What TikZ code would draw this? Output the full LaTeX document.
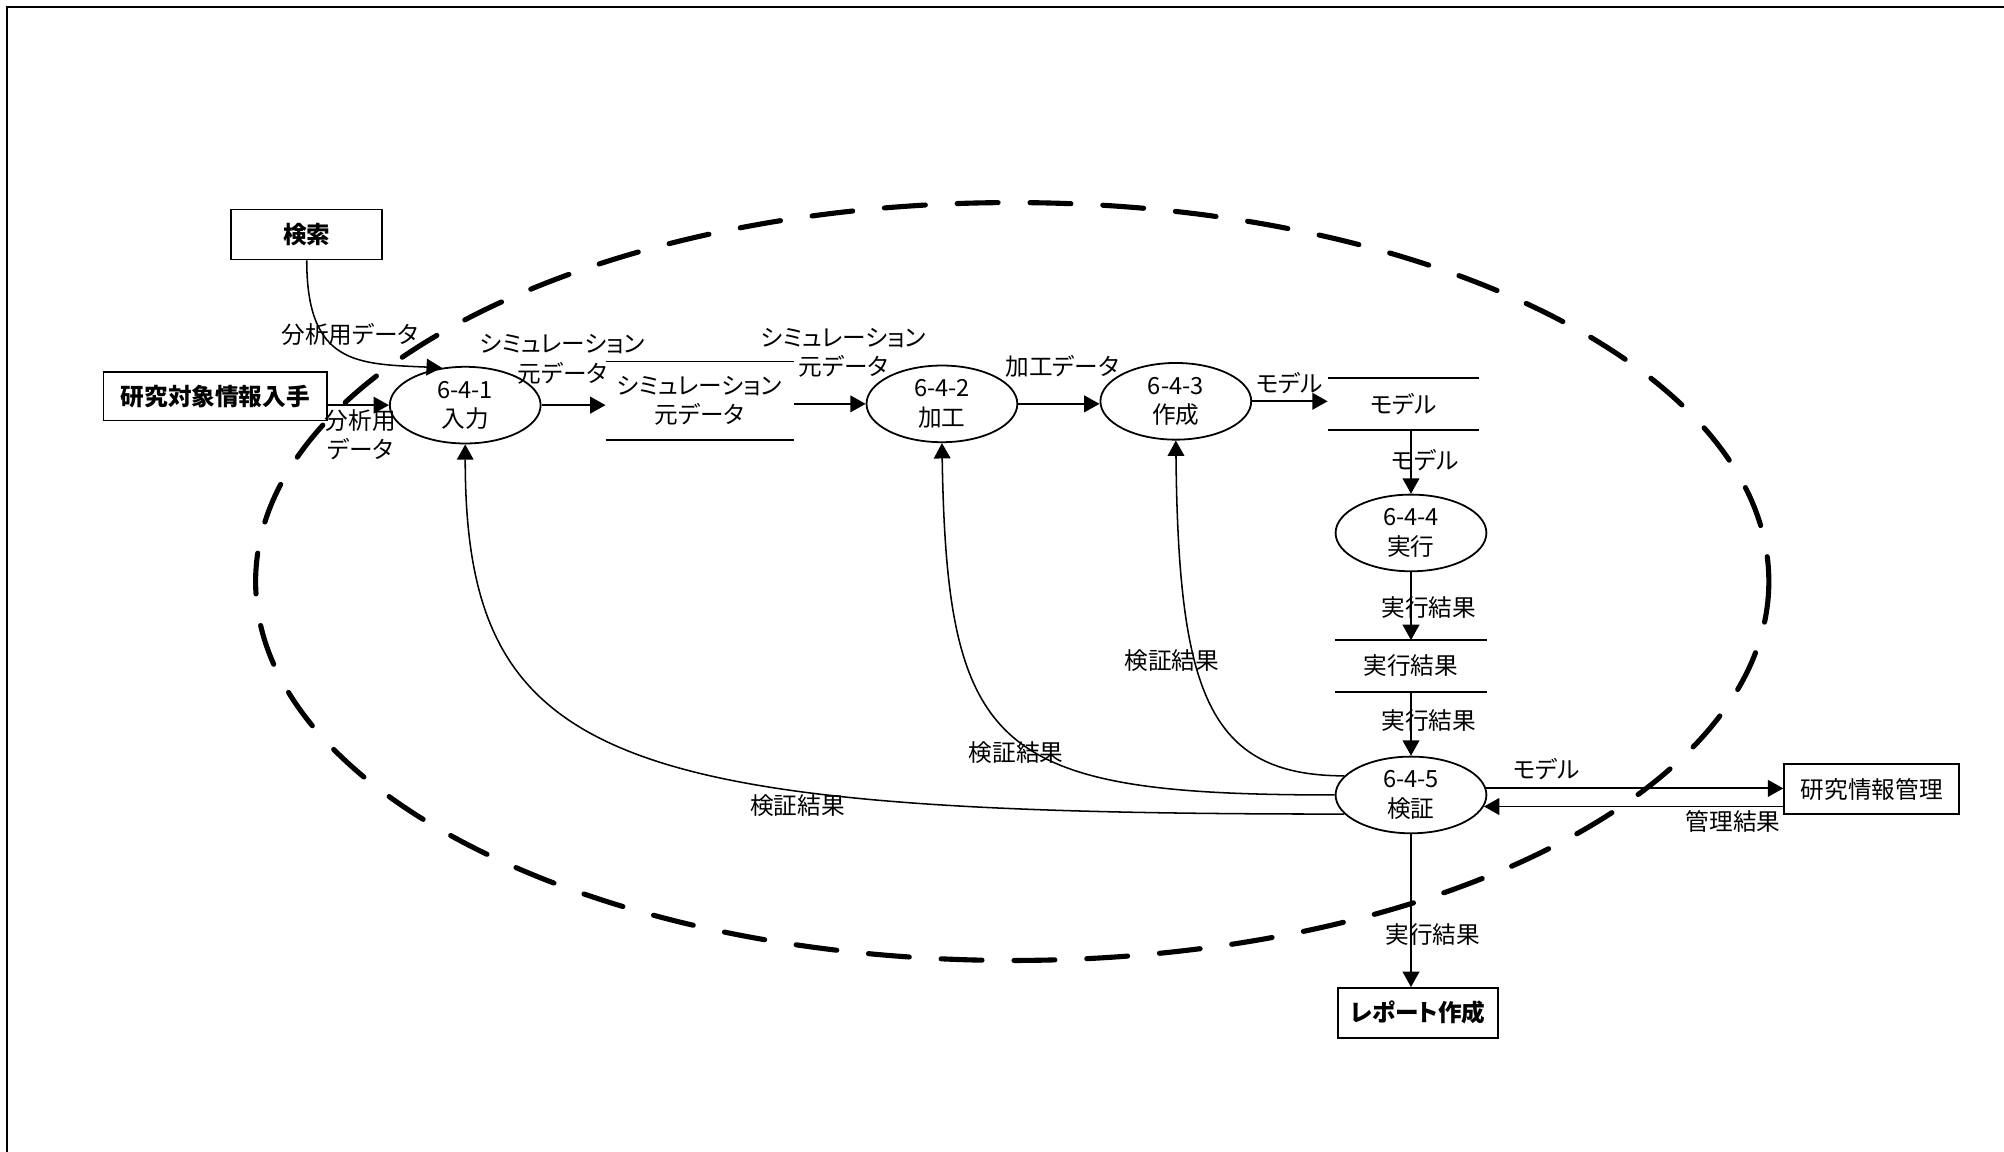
\documentclass[tikz,border=0pt]{standalone}
\usepackage{fontspec}
\setmainfont{Noto Sans CJK JP}[RawFeature={+palt}]
\usetikzlibrary{arrows.meta,shapes.geometric}
\begin{document}
\begin{tikzpicture}[x=1pt,y=-1pt,
  every node/.style={font=\fontsize{18.5}{23}\selectfont, inner sep=0pt},
  proc/.style={draw, ellipse, minimum width=118pt, minimum height=60pt, fill=white, line width=1.4pt, align=center},
  ext/.style={draw, rectangle, line width=1.4pt, font=\fontsize{18.5}{23}\selectfont\bfseries},
  plainbox/.style={draw, rectangle, line width=1.4pt},
  store/.style={align=center},
  storeline/.style={line width=1.4pt},
  lbl/.style={align=center},
  flow/.style={line width=1.5pt, -{Triangle[length=12pt,width=13pt]}},
  back/.style={line width=1.2pt, -{Triangle[length=12pt,width=13pt]}},
  boundary/.style={line width=4pt, line cap=round, dash pattern=on 32pt off 25pt},
  frame/.style={line width=1.6pt}
]
\useasboundingbox (0,0) rectangle (1568,901);
\draw[frame] (5.7,901) -- (5.7,5.7) -- (1568,5.7);

% system boundary
\draw[boundary] (792,455) ellipse [x radius=592, y radius=296.5];

% external entities
\node[ext, minimum width=118pt, minimum height=39pt] (kensaku) at (240,183.5) {検索};
\node[ext, minimum width=175pt, minimum height=38pt] (nyushu) at (168.5,310) {研究対象情報入手};
\node[plainbox, minimum width=137pt, minimum height=39pt] (kanri) at (1464.5,617.5) {研究情報管理};
\node[ext, minimum width=125pt, minimum height=39pt] (report) at (1109.5,792.5) {レポート作成};

% processes
\node[proc] (p1) at (364,317) {6-4-1\\入力};
\node[proc] (p2) at (737,316) {6-4-2\\加工};
\node[proc] (p3) at (920,314) {6-4-3\\作成};
\node[proc] (p4) at (1104,417) {6-4-4\\実行};
\node[proc] (p5) at (1104,622) {6-4-5\\検証};

% data stores
\node[store, minimum width=147pt, minimum height=61pt] (s1) at (547.5,313.5) {シミュレーション\\元データ};
\draw[storeline] (s1.north west) -- (s1.north east) (s1.south west) -- (s1.south east);
\node[store, minimum width=118pt, minimum height=40pt] (sm) at (1098,316) {モデル};
\draw[storeline] (sm.north west) -- (sm.north east) (sm.south west) -- (sm.south east);
\node[store, minimum width=118pt, minimum height=40pt] (sr) at (1104,521) {実行結果};
\draw[storeline] (sr.north west) -- (sr.north east) (sr.south west) -- (sr.south east);

% flows
\draw[back] (kensaku.south) .. controls +(0,82) and +(-66,-3) .. (p1.122);
\draw[flow] (nyushu.east |- p1.west) -- (p1.west);
\draw[flow] (p1.east) -- (s1.west |- p1.east);
\draw[flow] (s1.east |- p2.west) -- (p2.west);
\draw[flow] (p2.east) -- (p3.west |- p2.east);
\draw[flow] (p3.east) -- (sm.west |- p3.east);
\draw[flow] (p4.north |- sm.south) -- (p4.north);
\draw[flow] (p4.south) -- (sr.north);
\draw[flow] (sr.south) -- (p5.north);
\draw[flow] (p5.5) -- (kanri.west |- p5.5);
\draw[flow] (kanri.west |- p5.-9) -- (p5.-9);
\draw[flow] (p5.south) -- (p5.south |- report.north);

% feedback curves
\draw[back] (p5.164) .. controls +(-107,0) and +(2,196) .. (p3.south);
\draw[back] (p5.west) .. controls +(-265,0) and +(4,243) .. (p2.south);
\draw[back] (p5.196) .. controls +(-570,0) and +(0,253) .. (p1.south);

% labels
\node[lbl] (l1) at (274,262) {分析用データ};
\node[lbl] (l2) at (282,340) {分析用\\データ};
\node[lbl] (l3) at (440,281) {シミュレーション\\元データ};
\node[lbl] (l4) at (660,276) {シミュレーション\\元データ};
\node[lbl] (l5) at (831,287) {加工データ};
\node[lbl] (l6) at (1009,300) {モデル};
\node[lbl] (l7) at (1115,360) {モデル};
\node[lbl] (l8) at (1118,475) {実行結果};
\node[lbl] (l9) at (1118,564) {実行結果};
\node[lbl] (l10) at (1210,602) {モデル};
\node[lbl] (l11) at (1356,643) {管理結果};
\node[lbl] (l12) at (1121,731) {実行結果};
\node[lbl] (l13) at (917,517) {検証結果};
\node[lbl] (l14) at (795,589) {検証結果};
\node[lbl] (l15) at (624,630) {検証結果};
\end{tikzpicture}
\end{document}
